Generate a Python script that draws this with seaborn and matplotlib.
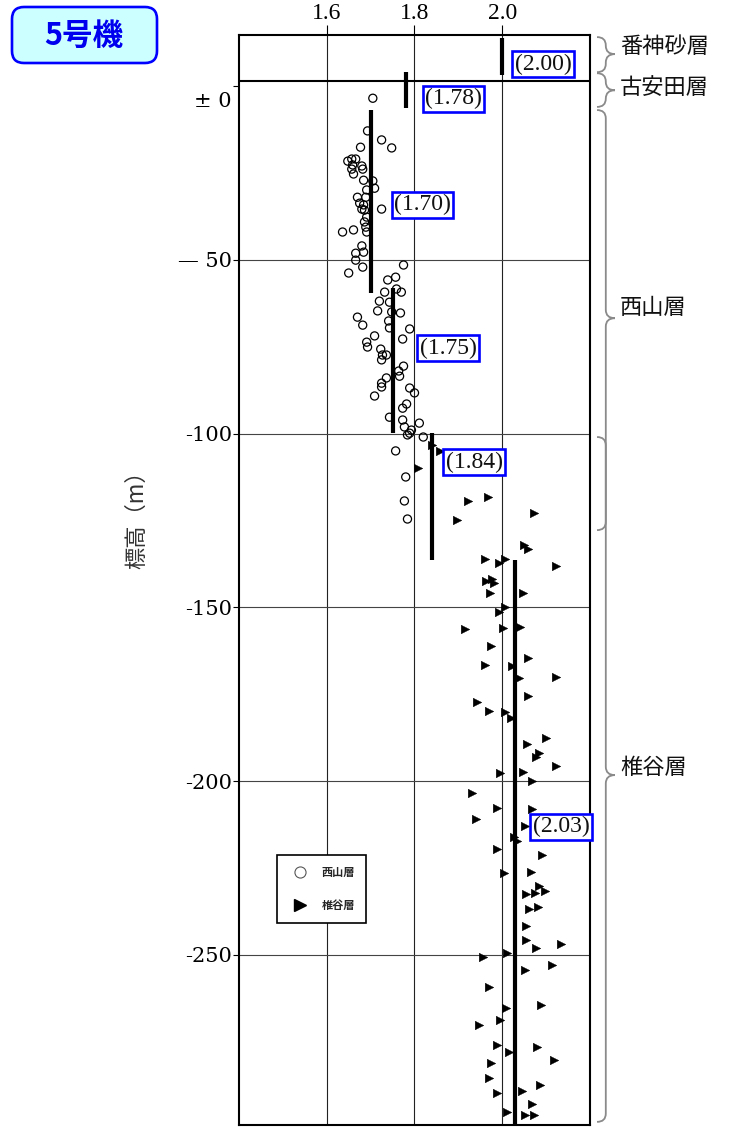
import matplotlib
matplotlib.use("Agg")
import matplotlib.pyplot as plt
import matplotlib.transforms as mtransforms
from matplotlib.patches import FancyBboxPatch, PathPatch
from matplotlib.path import Path
from matplotlib.lines import Line2D
import pandas as pd
import seaborn as sns

# ---- 西山層: 密度 (g/cm3) と 標高 (m) ----
nishiyama_density = [
    1.705, 1.693, 1.725, 1.748, 1.677, 1.648, 1.657, 1.666, 1.659, 1.657,
    1.661, 1.680, 1.682, 1.684, 1.705, 1.709, 1.691, 1.670, 1.689, 1.675,
    1.684, 1.680, 1.686, 1.725, 1.691, 1.686, 1.689, 1.691, 1.636, 1.661,
    1.680, 1.666, 1.684, 1.666, 1.682, 1.650, 1.775, 1.757, 1.739, 1.759,
    1.770, 1.732, 1.720, 1.743, 1.716, 1.748, 1.768, 1.670, 1.682, 1.741,
    1.743, 1.789, 1.709, 1.773, 1.691, 1.693, 1.723, 1.727, 1.725, 1.736,
    1.775, 1.764, 1.766, 1.736, 1.725, 1.725, 1.709, 1.789, 1.800, 1.782,
    1.773, 1.743, 1.773, 1.777, 1.793, 1.784, 1.811, 1.820, 1.757, 1.789,
    1.780, 1.777, 1.784,
]
nishiyama_elev = [
    -3.5, -12.9, -15.5, -17.8, -17.6, -21.6, -21.0, -21.0, -22.7, -23.9,
    -25.3, -23.0, -23.9, -27.1, -27.3, -29.4, -29.9, -32.0, -32.0, -33.7,
    -34.2, -35.4, -35.7, -35.4, -37.7, -39.1, -40.6, -42.0, -42.0, -41.4,
    -46.0, -48.1, -47.8, -50.1, -52.1, -53.8, -51.5, -55.0, -55.8, -58.4,
    -59.3, -59.3, -61.9, -62.2, -64.7, -65.0, -65.3, -66.5, -68.8, -67.6,
    -69.6, -69.9, -71.9, -72.8, -73.7, -75.1, -75.7, -77.4, -78.8, -77.4,
    -80.6, -82.0, -83.5, -84.0, -85.5, -86.6, -89.2, -86.9, -88.3, -91.5,
    -92.7, -95.3, -96.1, -98.1, -99.0, -100.4, -97.0, -101.0, -105.0, -99.9,
    -112.5, -119.4, -124.6,
]

# ---- 椎谷層: 密度 (g/cm3) と 標高 (m) ----
shiiya_density = [
    1.839, 1.857, 1.807, 1.923, 1.968, 1.898, 2.073, 2.050, 2.059, 1.961,
    1.993, 2.007, 2.123, 1.964, 1.977, 1.982, 1.973, 2.048, 1.993, 2.007,
    1.916, 2.002, 2.041, 1.975, 2.059, 1.961, 2.023, 2.039, 2.123, 1.943,
    2.059, 1.970, 2.007, 2.020, 2.100, 2.057, 2.084, 2.077, 2.123, 1.995,
    2.048, 2.068, 1.932, 1.989, 2.068, 1.941, 2.052, 2.027, 2.034, 1.989,
    2.091, 2.005, 2.066, 2.084, 2.075, 2.098, 2.055, 2.061, 2.082, 2.055,
    2.055, 2.077, 2.134, 1.955, 2.011, 2.114, 2.052, 1.970, 2.089, 2.009,
    1.995, 1.948, 1.989, 2.016, 2.080, 2.118, 1.975, 1.970, 2.086, 1.989,
    2.045, 2.068, 2.011, 2.052, 2.073,
]
shiiya_elev = [
    -103.3, -105.0, -109.9, -119.4, -118.3, -124.9, -122.9, -132.1, -133.2, -136.1,
    -137.3, -136.1, -138.1, -142.4, -141.9, -143.0, -145.9, -145.9, -151.4, -149.9,
    -156.3, -156.0, -155.7, -161.2, -164.6, -166.6, -166.9, -170.4, -170.1, -177.3,
    -175.5, -179.9, -180.1, -181.9, -187.6, -189.4, -191.9, -193.1, -195.7, -197.7,
    -197.4, -200.0, -203.5, -207.8, -208.1, -210.9, -212.9, -216.1, -217.3, -219.6,
    -221.3, -226.5, -226.2, -230.2, -232.2, -231.7, -232.5, -236.8, -236.3, -241.7,
    -245.8, -248.1, -246.9, -250.6, -249.5, -252.9, -254.4, -259.3, -264.5, -265.3,
    -268.8, -270.2, -276.0, -278.0, -276.5, -280.3, -281.2, -285.5, -287.5, -289.8,
    -289.2, -293.0, -295.3, -296.1, -296.1,
]

# ---- 区間平均密度 ----
seg_density = [2.00, 1.78, 1.70, 1.75, 1.84, 2.03]
seg_top = [13.8, 4.0, -6.9, -58.1, -99.9, -136.4]
seg_bottom = [3.2, -6.3, -59.6, -99.9, -136.4, -299.0]
seg_label_x = [2.093, 1.889, 1.818, 1.877, 1.936, 2.134]
seg_label_y = [6.3, -3.7, -34.2, -75.4, -108.2, -213.2]

# ---- 軸目盛 ----
x_ticks = [1.6, 1.8, 2.0]
x_ticklabels = ["1.6", "1.8", "2.0"]
y_ticks = [0, -50, -100, -150, -200, -250]
y_ticklabels = ["± 0", "— 50", "-100", "-150", "-200", "-250"]

# ---- 地層区分 (右側の括弧) ----
layer_names = ["番神砂層", "古安田層", "西山層", "椎谷層"]
layer_top = [14.1, 3.7, -6.9, -101.0]
layer_bottom = [4.0, -6.0, -127.8, -298.1]
layer_tip = [9.2, -1.2, -66.8, -198.3]
layer_label_y = [11.3, -0.5, -63.6, -196.0]
boundary_elev = 1.4

sns.set_theme(style="white")
plt.rcParams["font.family"] = ["Noto Sans CJK JP", "DejaVu Sans"]
plt.rcParams["axes.unicode_minus"] = False

W, H = 731, 1128
fig = plt.figure(figsize=(W / 100, H / 100), dpi=100)
fig.patch.set_facecolor("white")
ax = fig.add_axes([239 / W, 3 / H, 351 / W, 1090 / H])
ax.set_facecolor("white")

df_n = pd.DataFrame({"density": nishiyama_density, "elev": nishiyama_elev})
df_s = pd.DataFrame({"density": shiiya_density, "elev": shiiya_elev})

# grid
for xv in x_ticks:
    ax.axvline(xv, color="#222222", lw=0.8, zorder=1)
for yv in y_ticks[1:]:
    ax.axhline(yv, color="#444444", lw=0.8, zorder=1)
ax.axhline(boundary_elev, color="black", lw=1.5, zorder=1)

sns.scatterplot(data=df_n, x="density", y="elev", marker="o", s=34,
                facecolor="none", edgecolor="black", linewidth=0.9,
                ax=ax, legend=False, zorder=3)
sns.scatterplot(data=df_s, x="density", y="elev", marker=">", s=38,
                color="black", edgecolor="black", linewidth=0.3,
                ax=ax, legend=False, zorder=3)

# mean density segments
ax.vlines(seg_density, seg_bottom, seg_top, colors="black", lw=3.0, zorder=4)
for v, lx, ly in zip(seg_density, seg_label_x, seg_label_y):
    ax.text(lx, ly, f"({v:.2f})", ha="center", va="center", fontsize=17,
            family="Liberation Serif", color="#111111", zorder=6,
            bbox=dict(boxstyle="square,pad=0.1", fc="white", ec="#0000ff", lw=1.9))

ax.set_xlim(1.4, 2.2)
ax.set_ylim(-299, 14.7)

ax.xaxis.tick_top()
ax.set_xticks(x_ticks, x_ticklabels, fontfamily="Liberation Serif", fontsize=17)
ax.set_yticks(y_ticks, y_ticklabels, fontfamily="DejaVu Serif", fontsize=15)
ax.tick_params(axis="x", direction="out", length=7, width=0.8, pad=1,
               colors="black", top=True, bottom=False)
ax.tick_params(axis="y", direction="out", length=4, width=0.8, pad=1,
               colors="black", left=True)
zero_lbl = ax.get_yticklabels()[0]
zero_lbl.set_transform(zero_lbl.get_transform()
                       + mtransforms.ScaledTranslation(0, -0.13, fig.dpi_scale_trans))

for sp in ax.spines.values():
    sp.set_visible(True)
    sp.set_color("black")
    sp.set_linewidth(1.5)

ax.set_xlabel("")
ax.set_ylabel("標高（m）", fontsize=16, color="#333333")
ax.yaxis.set_label_coords(-0.259, 0.56)

# legend
handles = [
    Line2D([], [], marker="o", ls="none", mfc="none", mec="#555555", ms=8, mew=0.8,
           label="西山層"),
    Line2D([], [], marker=">", ls="none", color="black", ms=9, label="椎谷層"),
]
leg = ax.legend(handles=handles, loc="upper left", bbox_to_anchor=(0.108, 0.248),
                frameon=True, fancybox=False, edgecolor="black", framealpha=1,
                prop={"family": ["Noto Sans CJK JP"], "weight": "bold", "size": 8},
                labelspacing=1.8, handletextpad=0.8, borderpad=1.0,
                handlelength=2.2, borderaxespad=0)
leg.get_frame().set_linewidth(1.2)

# layer braces on the right
bt = mtransforms.blended_transform_factory(ax.transAxes, ax.transData)
x0, xm, xt = 1.020, 1.045, 1.071
r = 2.4
for name, yt, yb, ym, ly in zip(layer_names, layer_top, layer_bottom, layer_tip, layer_label_y):
    verts = [(x0, yt), (xm, yt), (xm, yt - r),
             (xm, ym + r),
             (xm, ym), (xt, ym),
             (xm, ym), (xm, ym - r),
             (xm, yb + r),
             (xm, yb), (x0, yb)]
    codes = [Path.MOVETO, Path.CURVE3, Path.CURVE3,
             Path.LINETO,
             Path.CURVE3, Path.CURVE3,
             Path.CURVE3, Path.CURVE3,
             Path.LINETO,
             Path.CURVE3, Path.CURVE3]
    ax.add_patch(PathPatch(Path(verts, codes), transform=bt, fill=False,
                           ec="#8a8a8a", lw=1.3, clip_on=False))
    ax.text(1.085, ly, name, transform=bt, ha="left", va="center",
            fontsize=16, color="#111111", clip_on=False)

# unit badge
badge = FancyBboxPatch((12, H - 63), 145, 56, boxstyle="round,pad=0,rounding_size=12",
                       transform=mtransforms.IdentityTransform(),
                       fc="#ccffff", ec="#0000ff", lw=1.9)
fig.add_artist(badge)
fig.text(84 / W, 1 - 36 / H, "5号機", ha="center", va="center", fontsize=22,
         color="#0000ee", fontweight="bold")

fig.savefig("out.png", dpi=100)
